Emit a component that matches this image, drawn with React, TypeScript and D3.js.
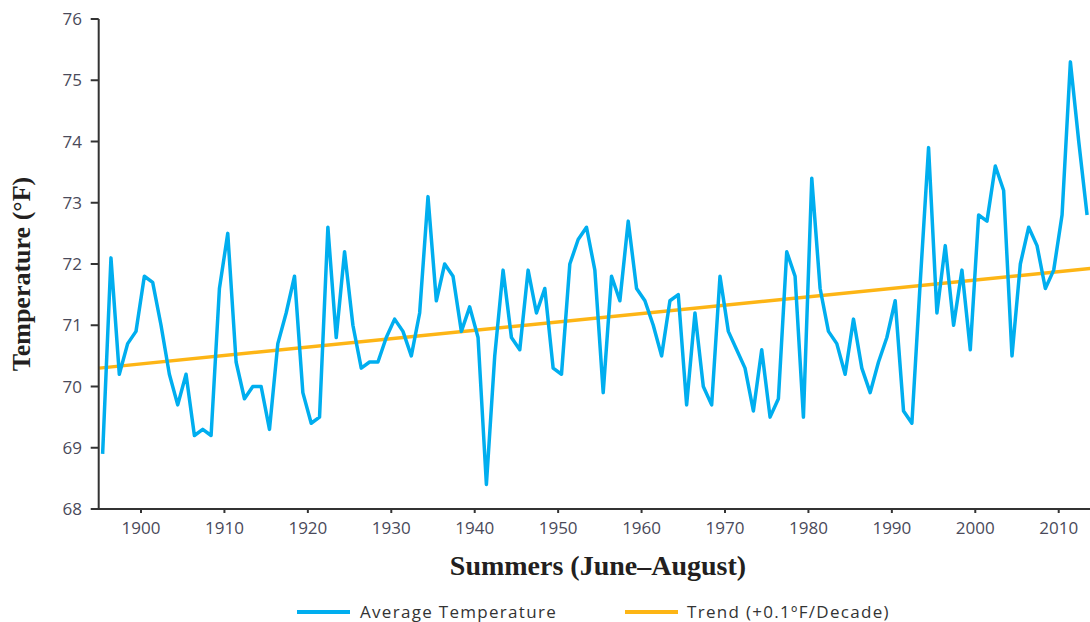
import React from "react";
import * as d3 from "d3";

const years: number[] = d3.range(1895, 2014);
const temps: number[] = [
  68.9, 72.1, 70.2, 70.7, 70.9, // 1895-1899
  71.8, 71.7, 71.0, 70.2, 69.7, 70.2, 69.2, 69.3, 69.2, 71.6, // 1900s
  72.5, 70.4, 69.8, 70.0, 70.0, 69.3, 70.7, 71.2, 71.8, 69.9, // 1910s
  69.4, 69.5, 72.6, 70.8, 72.2, 71.0, 70.3, 70.4, 70.4, 70.8, // 1920s
  71.1, 70.9, 70.5, 71.2, 73.1, 71.4, 72.0, 71.8, 70.9, 71.3, // 1930s
  70.8, 68.4, 70.5, 71.9, 70.8, 70.6, 71.9, 71.2, 71.6, 70.3, // 1940s
  70.2, 72.0, 72.4, 72.6, 71.9, 69.9, 71.8, 71.4, 72.7, 71.6, // 1950s
  71.4, 71.0, 70.5, 71.4, 71.5, 69.7, 71.2, 70.0, 69.7, 71.8, // 1960s
  70.9, 70.6, 70.3, 69.6, 70.6, 69.5, 69.8, 72.2, 71.8, 69.5, // 1970s
  73.4, 71.6, 70.9, 70.7, 70.2, 71.1, 70.3, 69.9, 70.4, 70.8, // 1980s
  71.4, 69.6, 69.4, 71.7, 73.9, 71.2, 72.3, 71.0, 71.9, 70.6, // 1990s
  72.8, 72.7, 73.6, 73.2, 70.5, 72.0, 72.6, 72.3, 71.6, 71.9, // 2000s
  72.8, 75.3, 74.0, 72.8, // 2010-2013
];
const trendYears: number[] = [1895, 2014];
const trendValues: number[] = [70.3, 71.93];
const xTicks: number[] = [1900, 1910, 1920, 1930, 1940, 1950, 1960, 1970, 1980, 1990, 2000, 2010];
const yTicks: number[] = [68, 69, 70, 71, 72, 73, 74, 75, 76];
const legendLabels: string[] = ["Average Temperature", "Trend (+0.1ºF/Decade)"];

const BLUE = "#00aeef";
const ORANGE = "#fdb515";
const AXIS = "#333";
const SANS = "'Open Sans', 'Noto Sans', sans-serif";
const SERIF = "'Liberation Serif', 'DejaVu Serif', serif";

export default function App() {
  const W = 1090, H = 622;
  const left = 98.7, right = 1090, top = 19, bottom = 509;
  const x = d3.scaleLinear().domain([1894.93, 2013.75]).range([left, right]);
  const y = d3.scaleLinear().domain([68, 76]).range([bottom, top]);
  const pts = years.map((yr, i) => [yr + 0.4, temps[i]] as [number, number]);
  const line = d3.line<[number, number]>().x(d => x(d[0])).y(d => y(d[1]));
  const trendPts = trendYears.map((yr, i) => [yr, trendValues[i]] as [number, number]);

  return (
    <svg width={W} height={H} style={{ position: "absolute", left: 0, top: 0, background: "#fff" }}>
      <defs>
        <clipPath id="plot">
          <rect x={left} y={0} width={right - left} height={bottom} />
        </clipPath>
      </defs>
      <g clipPath="url(#plot)">
        <path d={line(trendPts) || ""} fill="none" stroke={ORANGE} strokeWidth={3.5} />
        <path d={line(pts) || ""} fill="none" stroke={BLUE} strokeWidth={3.5} strokeLinejoin="round" />
      </g>
      {/* y axis */}
      <line x1={left} x2={left} y1={top} y2={bottom} stroke={AXIS} strokeWidth={2} />
      {yTicks.map(t => (
        <g key={t}>
          <line x1={left - 8} x2={left} y1={y(t)} y2={y(t)} stroke={AXIS} strokeWidth={2} />
          <text x={82} y={y(t)} dy="0.36em" textAnchor="end" fontFamily={SANS} fontSize={17} fill="#4a4a5a">{t}</text>
        </g>
      ))}
      {/* x axis */}
      <line x1={left - 1} x2={right} y1={bottom} y2={bottom} stroke={AXIS} strokeWidth={2} />
      {xTicks.map(t => (
        <g key={t}>
          <line x1={x(t)} x2={x(t)} y1={bottom} y2={bottom + 4} stroke={AXIS} strokeWidth={2} />
          <text x={x(t)} y={534} textAnchor="middle" fontFamily={SANS} fontSize={17} fill="#4a4a5a">{t}</text>
        </g>
      ))}
      <text x={598} y={575} textAnchor="middle" fontFamily={SERIF} fontWeight="bold" fontSize={28} fill="#231f20">Summers (June–August)</text>
      <text transform="translate(30,274) rotate(-90)" textAnchor="middle" fontFamily={SERIF} fontWeight="bold" fontSize={26} fill="#231f20">Temperature (°F)</text>
      {/* legend */}
      <line x1={297} x2={350} y1={612} y2={612} stroke={BLUE} strokeWidth={4} />
      <text x={360} y={618} fontFamily={SANS} fontSize={17} letterSpacing={1.3} fill="#333">{legendLabels[0]}</text>
      <line x1={625} x2={678} y1={612} y2={612} stroke={ORANGE} strokeWidth={4} />
      <text x={687} y={618} fontFamily={SANS} fontSize={17} letterSpacing={1.3} fill="#333">{legendLabels[1]}</text>
    </svg>
  );
}
